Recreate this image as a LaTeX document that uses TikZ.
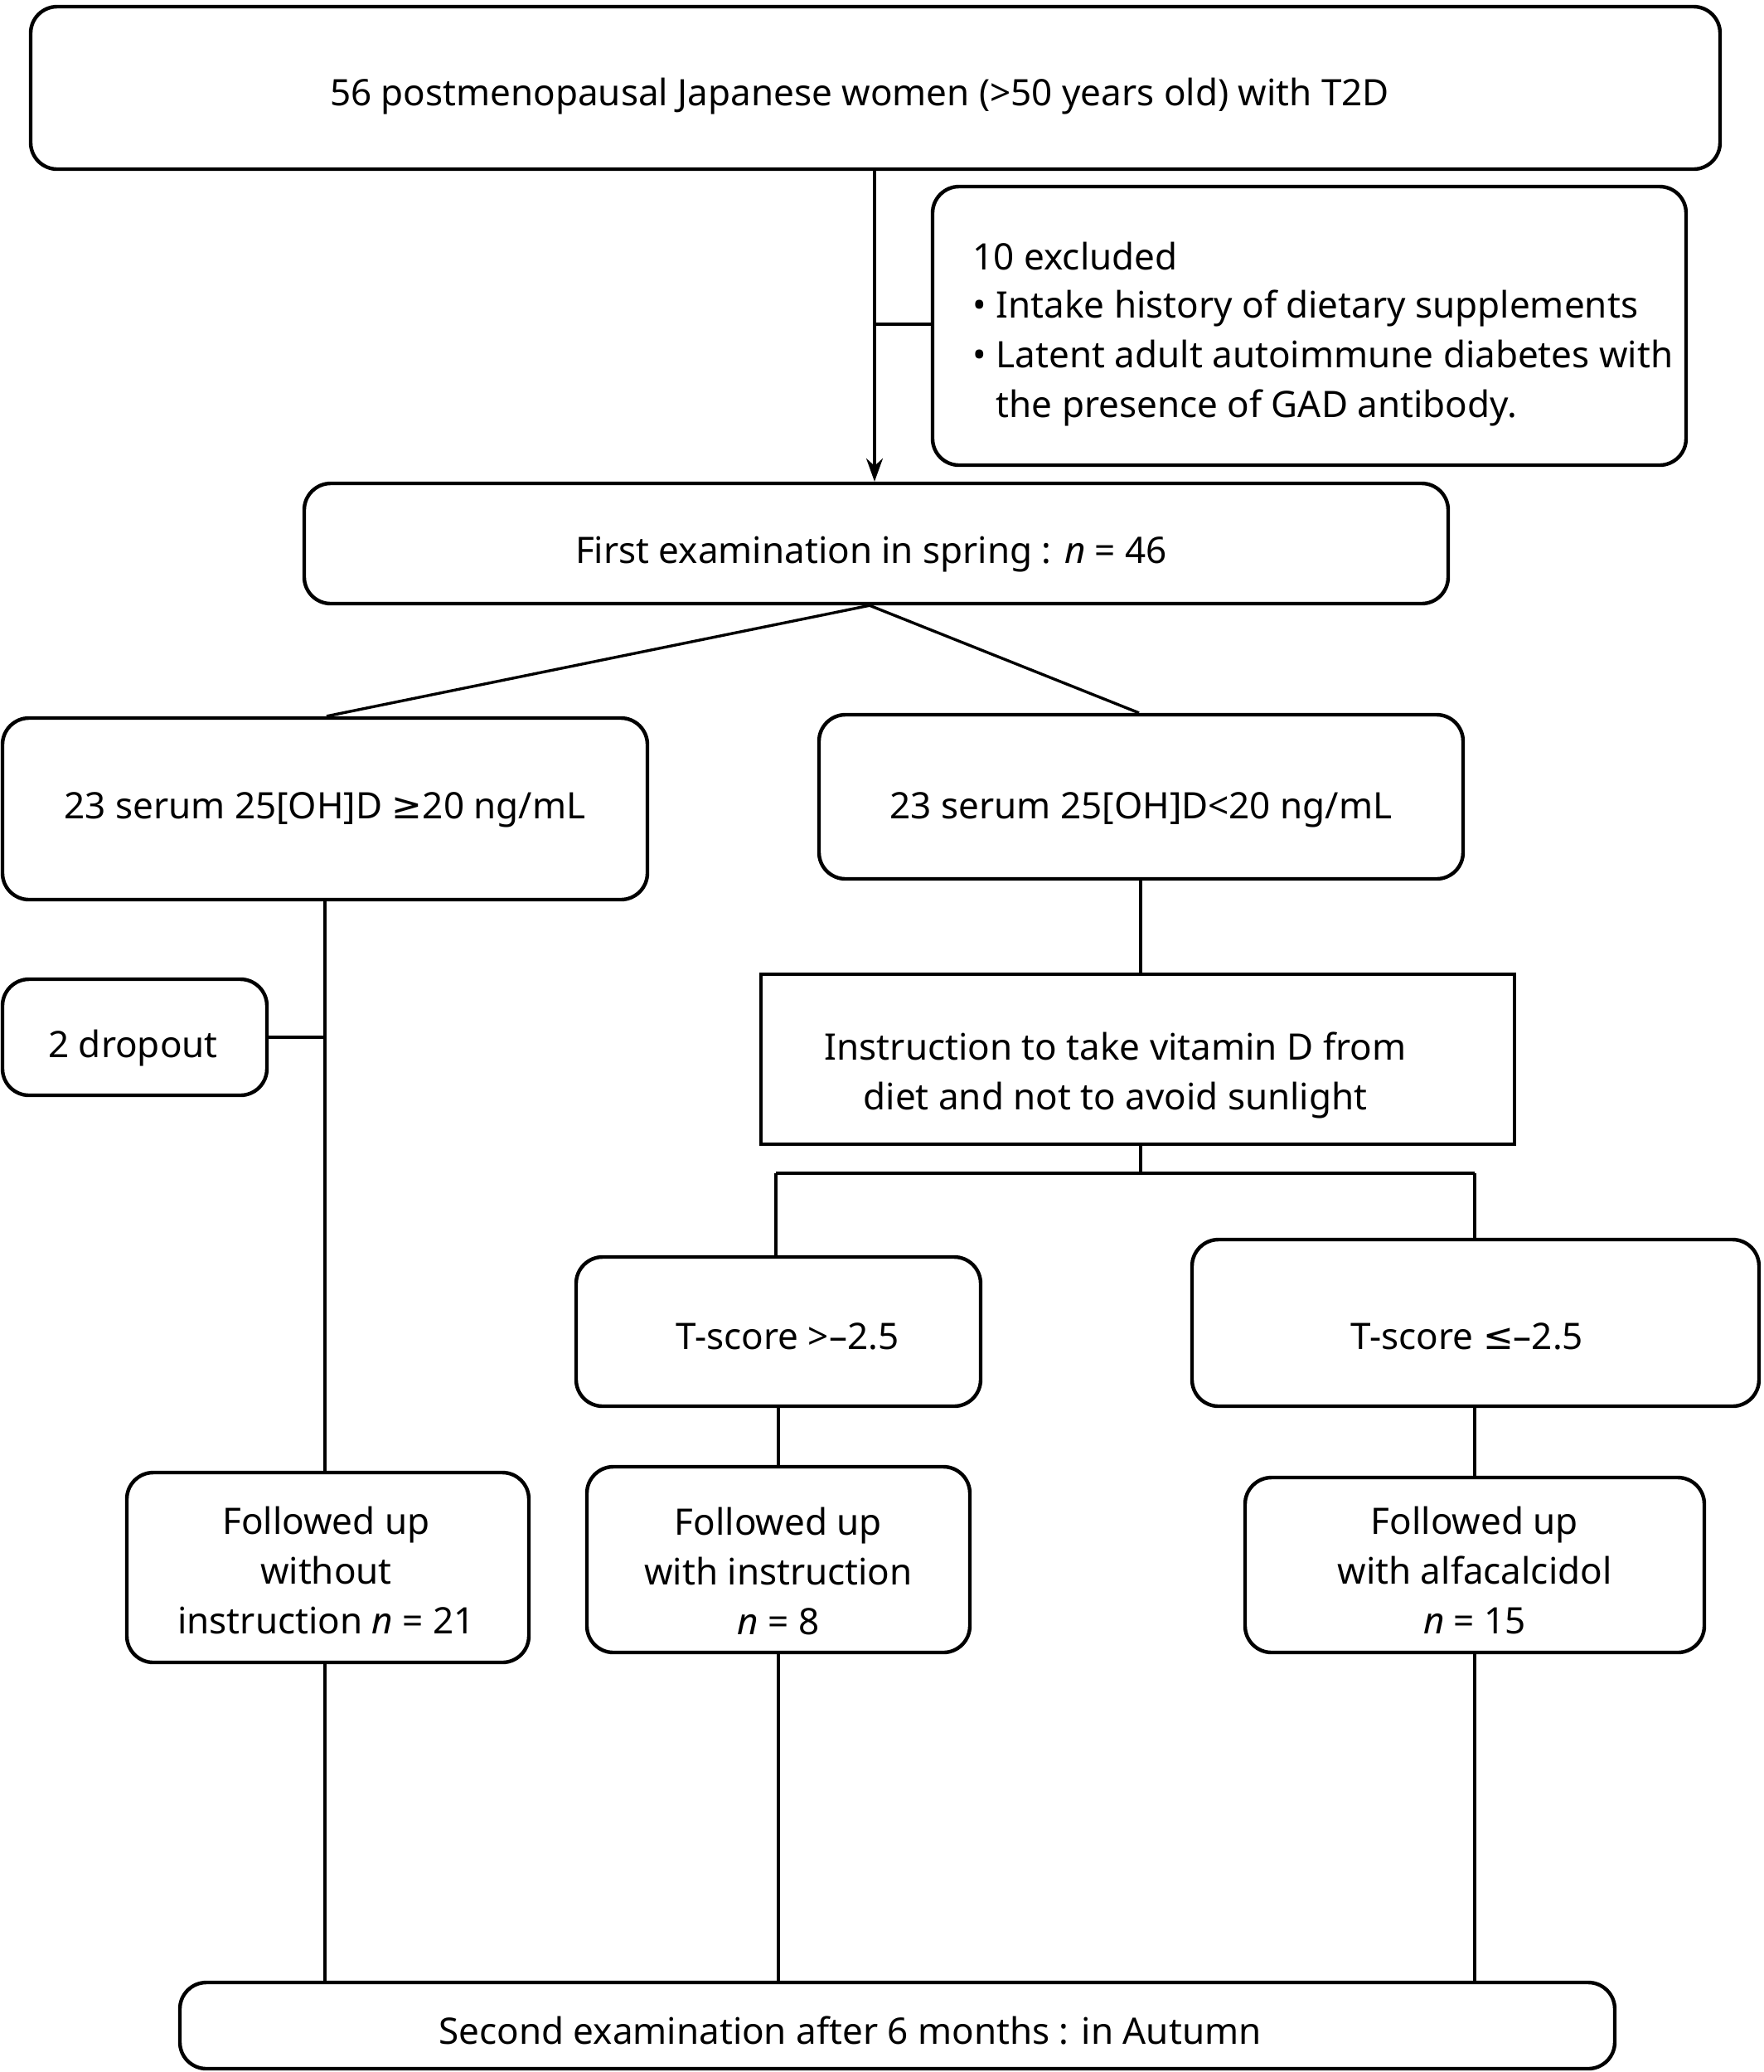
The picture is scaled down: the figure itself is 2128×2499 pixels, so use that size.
\documentclass[tikz,border=0pt]{standalone}
\usepackage{fontspec}
\setmainfont{Noto Sans}
\newfontfamily\symfont{DejaVu Sans}
\newcommand{\mygeq}{{\symfont ≥}}
\newcommand{\myleq}{{\symfont ≤}}
\usetikzlibrary{arrows.meta}
\begin{document}
\begin{tikzpicture}[x=0.25pt,y=-0.25pt,
  every node/.style={font=\fontsize{11}{15}\selectfont},
  rbox/.style={draw,line width=1.1pt,rounded corners=8pt,inner sep=0pt},
  sbox/.style={draw,line width=1.1pt,inner sep=0pt},
  txt/.style={inner sep=0pt,align=center},
  conn/.style={line width=0.85pt}]
\useasboundingbox (0,0) rectangle (2128,2499);
% boxes
\node[rbox,minimum width=2038*0.25pt,minimum height=196*0.25pt] (top) at (1056,106) {};
\node[rbox,minimum width=909*0.25pt,minimum height=336*0.25pt] (excl) at (1579.5,393) {};
\node[rbox,minimum width=1380*0.25pt,minimum height=145*0.25pt] (first) at (1057,655.5) {};
\node[rbox,minimum width=778*0.25pt,minimum height=219*0.25pt] (hi) at (392,975.5) {};
\node[rbox,minimum width=777*0.25pt,minimum height=198*0.25pt] (lo) at (1376.5,961) {};
\node[rbox,minimum width=319*0.25pt,minimum height=140*0.25pt] (drop) at (162.5,1251) {};
\node[sbox,minimum width=909*0.25pt,minimum height=205*0.25pt] (instr) at (1372.5,1277.5) {};
\node[rbox,minimum width=488*0.25pt,minimum height=180*0.25pt] (t1) at (939,1606) {};
\node[rbox,minimum width=684*0.25pt,minimum height=201*0.25pt] (t2) at (1780,1595.5) {};
\node[rbox,minimum width=485*0.25pt,minimum height=229*0.25pt] (f1) at (395.5,1890.5) {};
\node[rbox,minimum width=462*0.25pt,minimum height=224*0.25pt] (f2) at (939,1881) {};
\node[rbox,minimum width=554*0.25pt,minimum height=211*0.25pt] (f3) at (1779,1887.5) {};
\node[rbox,minimum width=1731*0.25pt,minimum height=104*0.25pt] (bot) at (1082.5,2443) {};
% texts
\node[txt] (toptext) at ([shift={(-19,10)}]top.center) {56 postmenopausal Japanese women (>50 years old) with T2D};
\node[anchor=north west,align=left,inner sep=0pt] (excltext) at (1173,291) {10 excluded\\[-0.5pt]
\textbullet\ Intake history of dietary supplements\\
\textbullet\ Latent adult autoimmune diabetes with\\
\phantom{\textbullet\ }the presence of GAD antibody.};
\node[txt] (firsttext) at ([shift={(-6,13)}]first.center) {First examination in spring : \textit{n} = 46};
\node[txt] (hitext) at ([shift={(0,1)}]hi.center) {23 serum 25[OH]D \mygeq20 ng/mL};
\node[txt] (lotext) at ([shift={(0,16)}]lo.center) {23 serum 25[OH]D<20 ng/mL};
\node[txt] (droptext) at ([shift={(-2,13)}]drop.center) {2 dropout};
\node[txt] (instrtext) at ([shift={(-27,19)}]instr.center) {Instruction to take vitamin D from\\diet and not to avoid sunlight};
\node[txt] (t1text) at ([shift={(11,6)}]t1.center) {T-score >–2.5};
\node[txt] (t2text) at ([shift={(-10,16)}]t2.center) {T-score \myleq–2.5};
\node[txt] (f1text) at ([shift={(-2,3)}]f1.center) {Followed up\\without\\instruction \textit{n} = 21};
\node[txt] (f2text) at ([shift={(0,14)}]f2.center) {Followed up\\with instruction\\\textit{n} = 8};
\node[txt] (f3text) at ([shift={(0,6)}]f3.center) {Followed up\\with alfacalcidol\\\textit{n} = 15};
\node[txt] (bottext) at ([shift={(-57,6)}]bot.center) {Second examination after 6 months : in Autumn};
% connectors
\coordinate (j1) at (1055,391);
\draw[conn,-{Stealth[length=7pt,width=5pt]}] (1055,0 |- top.south) -- (1055,0 |- first.north);
\draw[conn] (j1) -- (j1 -| excl.west);
\coordinate (fs) at (1049,0 |- first.south);
\draw[conn] (fs) -- (394,0 |- hi.north);
\draw[conn] (fs) -- (1374,0 |- lo.north);
\draw[conn] (392,0 |- hi.south) -- (392,0 |- f1.north);
\draw[conn] (392,0 |- f1.south) -- (392,0 |- bot.north);
\draw[conn] (drop.east) -- (392,1251);
\draw[conn] (1376,0 |- lo.south) -- (1376,0 |- instr.north);
\coordinate (j2) at (1376,1415);
\draw[conn] (1376,0 |- instr.south) -- (j2);
\draw[conn] (936,1415) -- (1779,1415);
\draw[conn] (936,1415) -- (936,0 |- t1.north);
\draw[conn] (1779,1415) -- (1779,0 |- t2.north);
\draw[conn] (t1.south) -- (f2.north);
\draw[conn] (1779,0 |- t2.south) -- (1779,0 |- f3.north);
\draw[conn] (f2.south) -- (939,0 |- bot.north);
\draw[conn] (f3.south) -- (1779,0 |- bot.north);
\end{tikzpicture}
\end{document}
